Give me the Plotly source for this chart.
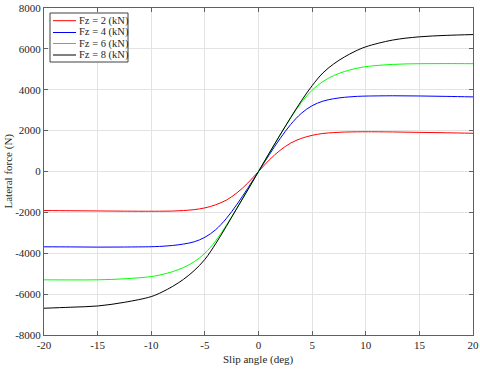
import plotly.graph_objects as go

# slip angle (deg) sample points
slip = [-20, -17.5, -15, -12.5, -10, -9, -8, -7, -6, -5, -4, -3, -2, -1, 0,
        1, 2, 3, 4, 5, 6, 7, 8, 9, 10, 12.5, 15, 17.5, 20]

fy_2kn = [-1910, -1920, -1930, -1940, -1945, -1942, -1935, -1910, -1865, -1780, -1630, -1400, -1040, -565, 0,
          560, 1030, 1390, 1620, 1770, 1860, 1905, 1930, 1940, 1945, 1935, 1915, 1895, 1870]
fy_4kn = [-3685, -3690, -3700, -3695, -3680, -3660, -3620, -3550, -3440, -3220, -2850, -2300, -1600, -820, 0,
          820, 1600, 2300, 2850, 3220, 3440, 3560, 3630, 3670, 3690, 3705, 3695, 3675, 3650]
fy_6kn = [-5300, -5305, -5300, -5250, -5140, -5040, -4900, -4700, -4420, -4000, -3400, -2630, -1780, -900, 0,
          900, 1780, 2620, 3380, 3980, 4400, 4690, 4890, 5030, 5130, 5240, 5275, 5280, 5275]
fy_8kn = [-6690, -6640, -6580, -6400, -6120, -5900, -5620, -5280, -4850, -4300, -3540, -2680, -1790, -900, 0,
          900, 1780, 2640, 3460, 4200, 4820, 5260, 5600, 5880, 6100, 6430, 6590, 6660, 6700]

names = ["Fz = 2 (kN)", "Fz = 4 (kN)", "Fz = 6 (kN)", "Fz = 8 (kN)"]
colors = ["#ff0000", "#0000ff", "#00ff00", "#000000"]

x_ticks = [-20, -15, -10, -5, 0, 5, 10, 15, 20]
x_labels = ["-20", "-15", "-10", "-5", "0", "5", "10", "15", "20"]
y_ticks = [-8000, -6000, -4000, -2000, 0, 2000, 4000, 6000, 8000]
y_labels = ["-8000", "-6000", "-4000", "-2000", "0", "2000", "4000", "6000", "8000"]

font_name = "Liberation Serif, Times New Roman, serif"
text_col = "#262626"

W, H = 480, 369
L, R, T, B = 44, 7, 8, 34
pw, ph = W - L - R, H - T - B


def px(xp):
    return (xp - L) / pw


def py(yp):
    return 1 - (yp - T) / ph


fig = go.Figure()
for ys, name, col in zip([fy_2kn, fy_4kn, fy_6kn, fy_8kn], names, colors):
    fig.add_trace(go.Scatter(x=slip, y=ys, mode="lines", name=name,
                             line=dict(color=col, width=1, shape="spline", smoothing=1)))

axis_style = dict(showline=True, linecolor="#606060", linewidth=1, mirror="ticks",
                  ticks="inside", ticklen=4, tickcolor="#606060", automargin=False,
                  showgrid=True, gridcolor="#e3e3e3", gridwidth=1, zeroline=False,
                  tickfont=dict(family=font_name, size=11, color=text_col))

# legend drawn MATLAB-style (compact box in the upper left)
shapes = [dict(type="rect", xref="paper", yref="paper", x0=px(50), x1=px(128), y0=py(62), y1=py(13),
               line=dict(color="#404040", width=1), fillcolor="white", layer="above")]
annotations = []
row_y = [20.7, 32.5, 43.5, 55]
for name, col, ry in zip(names, colors, row_y):
    shapes.append(dict(type="line", xref="paper", yref="paper", x0=px(53), x1=px(76),
                       y0=py(ry), y1=py(ry), line=dict(color=col, width=1), layer="above"))
    annotations.append(dict(text=name, xref="paper", yref="paper", x=px(77), y=py(ry),
                            xanchor="left", yanchor="middle", showarrow=False,
                            font=dict(family=font_name, size=10.5, color=text_col)))

annotations.append(dict(text="Slip angle (deg)", xref="paper", yref="paper", x=0.5, y=py(360),
                        xanchor="center", yanchor="middle", showarrow=False,
                        font=dict(family=font_name, size=11, color=text_col)))
annotations.append(dict(text="Lateral force (N)", xref="paper", yref="paper", x=px(8), y=0.5,
                        xanchor="center", yanchor="middle", showarrow=False, textangle=-90,
                        font=dict(family=font_name, size=11, color=text_col)))

fig.update_layout(
    width=W, height=H,
    margin=dict(l=L, r=R, t=T, b=B),
    paper_bgcolor="white", plot_bgcolor="white",
    font=dict(family=font_name, size=11, color=text_col),
    xaxis=dict(range=[-20, 20], tickvals=x_ticks, ticktext=x_labels, **axis_style),
    yaxis=dict(range=[-8000, 8000], tickvals=y_ticks, ticktext=y_labels, **axis_style),
    shapes=shapes,
    annotations=annotations,
    showlegend=False,
)

# drop the default page margin so the 480x369 figure sits at the window's corner
fig.write_html("out.html", config={"displayModeBar": False},
               post_script="document.body.style.margin='0';")
